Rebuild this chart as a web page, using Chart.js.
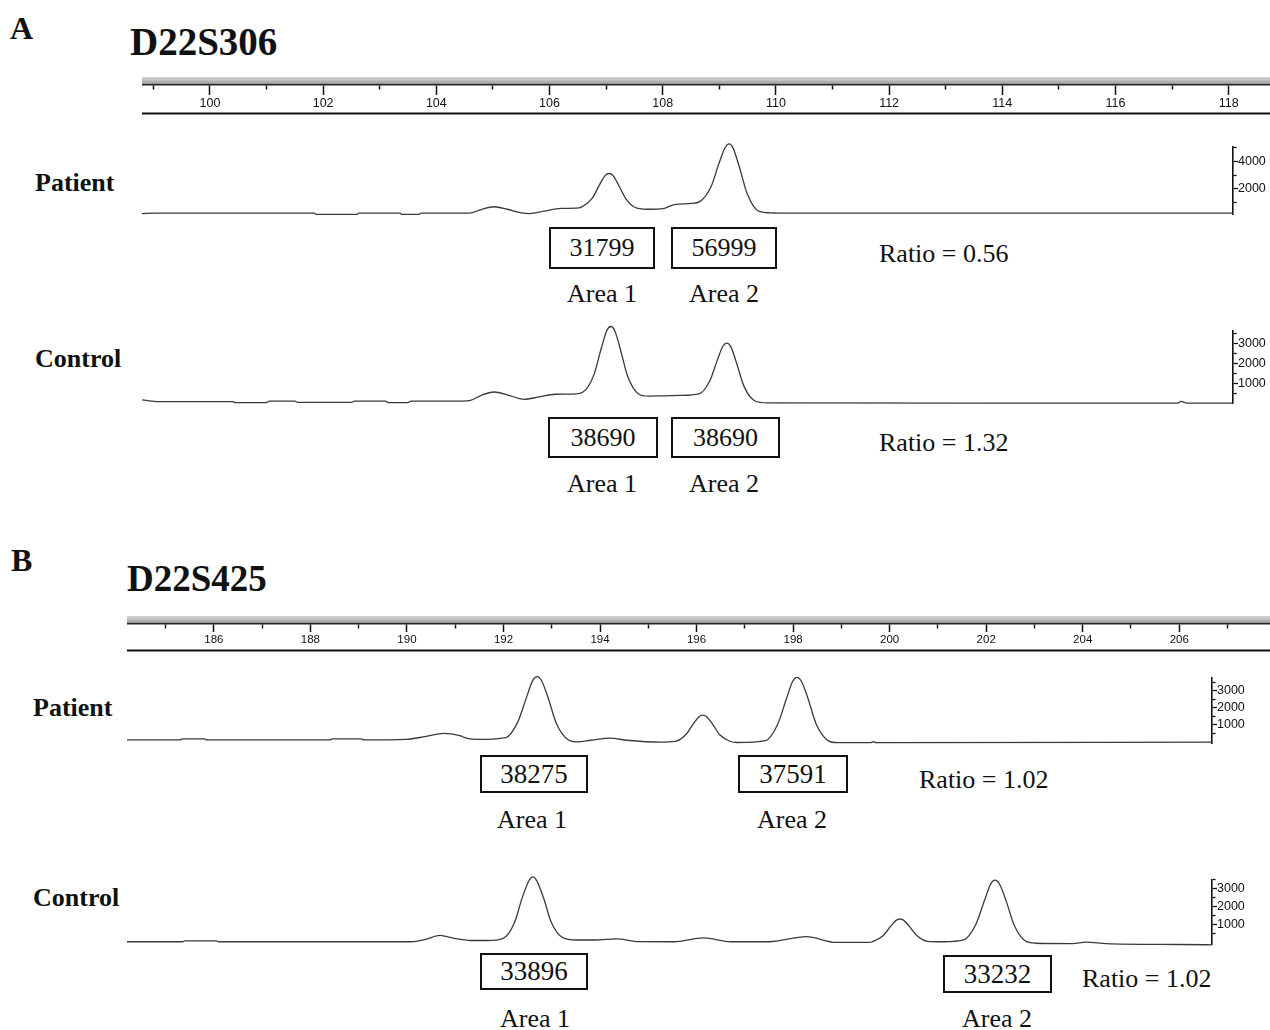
<!DOCTYPE html>
<html>
<head>
<meta charset="utf-8">
<script src="https://cdn.jsdelivr.net/npm/chart.js@4.4.0/dist/chart.umd.min.js"></script>
<style>
body { margin: 0; background: #fff; }
#fig { position: relative; width: 1270px; height: 1030px; overflow: hidden; font-family: "Liberation Serif", "Times New Roman", serif; color: #111; }
#fig canvas { position: absolute; }
.t { position: absolute; white-space: nowrap; line-height: 1; transform: translateY(-50%); }
.c { transform: translate(-50%, -50%); }
.b { font-weight: bold; }
.box { position: absolute; border: 2px solid #111; box-sizing: border-box; display: flex; align-items: center; justify-content: center; line-height: 1; }
</style>
</head>
<body>
<div id="fig">
  <canvas id="rulerA" width="1128" height="39" style="left:142px;top:76px"></canvas>
  <canvas id="patientA" width="1128" height="87" style="left:142px;top:135px"></canvas>
  <canvas id="controlA" width="1128" height="91" style="left:142px;top:320px"></canvas>
  <canvas id="rulerB" width="1143" height="37" style="left:127px;top:615px"></canvas>
  <canvas id="patientB" width="1143" height="85" style="left:127px;top:666px"></canvas>
  <canvas id="controlB" width="1143" height="84" style="left:127px;top:868px"></canvas>
</div>
<script>
// labels
const panels = ['A', 'B']
const markers = ['D22S306', 'D22S425']
const samples = ['Patient', 'Control']
const areaNames = ['Area 1', 'Area 2']

// peak areas and ratios
const patientA_areas = [31799, 56999]
const controlA_areas = [38690, 38690]
const patientB_areas = [38275, 37591]
const controlB_areas = [33896, 33232]
const ratios = ['0.56', '1.32', '1.02', '1.02']

// size ruler ticks (bp)
const rulerA_ticks = [99, 100, 101, 102, 103, 104, 105, 106, 107, 108, 109, 110, 111, 112, 113, 114, 115, 116, 117, 118]
const rulerB_ticks = [185, 186, 187, 188, 189, 190, 191, 192, 193, 194, 195, 196, 197, 198, 199, 200, 201, 202, 203, 204, 205, 206, 207]

// intensity axis ticks
const patientA_yticks = [1000, 2000, 3000, 4000, 5000]
const patientA_ylabels = [2000, 4000]
const other_yticks = [500, 1000, 1500, 2000, 2500, 3000, 3500]
const other_ylabels = [1000, 2000, 3000]

// traces: size (bp) and fluorescence (rfu)
const patientA_size = [98.8, 99.0, 101.85, 101.87, 102.6, 102.62, 103.36, 103.38, 103.7, 103.72, 104.58, 104.8, 105.02, 105.25, 105.5, 105.65, 105.9, 106.2, 106.45, 106.56, 106.75, 106.88, 106.98, 107.05, 107.12, 107.22, 107.35, 107.54, 107.8, 108.0, 108.2, 108.5, 108.65, 108.85, 108.99, 109.10, 109.17, 109.24, 109.35, 109.49, 109.69, 109.95, 110.1, 118.07]
const patientA_rfu = [200, 236, 236, 150, 150, 236, 236, 150, 150, 236, 236, 520, 700, 520, 260, 210, 380, 580, 600, 675, 1303, 2282, 2960, 3110, 2960, 2259, 1252, 607, 520, 560, 860, 940, 1070, 2147, 3828, 4991, 5250, 4949, 3595, 1640, 386, 250, 236, 236]

const controlA_size = [98.8, 99.1, 100.4, 100.45, 101.0, 101.05, 101.5, 101.55, 102.5, 102.55, 103.1, 103.15, 103.5, 103.55, 104.45, 104.6, 104.8, 105.02, 105.25, 105.45, 105.55, 105.8, 106.1, 106.4, 106.59, 106.78, 106.91, 107.01, 107.08, 107.15, 107.25, 107.38, 107.57, 107.75, 108.0, 108.3, 108.64, 108.83, 108.96, 109.06, 109.13, 109.2, 109.3, 109.43, 109.62, 109.85, 117.1, 117.15, 117.25, 118.07]
const controlA_rfu = [176, 95, 95, 48, 48, 120, 120, 60, 60, 120, 120, 48, 48, 120, 120, 150, 420, 571, 430, 260, 205, 320, 460, 470, 571, 1409, 2717, 3623, 3824, 3617, 2684, 1337, 474, 370, 381, 400, 478, 1128, 2142, 2844, 3000, 2823, 2026, 875, 137, 30, 20, 110, 20, 20]

const patientB_size = [184.2, 185.3, 185.35, 185.8, 185.85, 188.4, 188.45, 189.05, 189.1, 189.98, 190.39, 190.76, 191.09, 191.24, 191.45, 192.04, 192.29, 192.47, 192.6, 192.69, 192.78, 192.92, 193.09, 193.34, 193.5, 193.8, 194.2, 194.55, 195.25, 195.55, 195.77, 195.92, 196.04, 196.12, 196.2, 196.32, 196.47, 196.69, 196.83, 197.42, 197.67, 197.85, 197.98, 198.07, 198.16, 198.3, 198.47, 198.72, 198.9, 199.6, 199.65, 199.7, 206.66]
const patientB_rfu = [110, 110, 170, 170, 110, 110, 170, 170, 110, 140, 320, 495, 360, 200, 140, 251, 1173, 2612, 3609, 3830, 3600, 2563, 1065, 105, 0, 90, 220, 90, -20, 28, 425, 1045, 1475, 1570, 1474, 1042, 418, 18, -40, 75, 1032, 2526, 3560, 3790, 3559, 2520, 1018, 56, -50, -50, 10, -50, -20]

const controlB_size = [184.2, 185.35, 185.4, 186.05, 186.1, 190.08, 190.4, 190.68, 190.95, 191.32, 191.67, 191.98, 192.22, 192.38, 192.52, 192.6, 192.68, 192.82, 192.98, 193.22, 193.5, 193.9, 194.34, 194.8, 195.52, 196.14, 196.7, 197.49, 198.26, 198.88, 199.58, 199.63, 199.85, 200.0, 200.12, 200.2, 200.28, 200.4, 200.55, 200.77, 201.11, 201.52, 201.77, 201.95, 202.08, 202.17, 202.26, 202.4, 202.57, 202.82, 203.02, 203.78, 204.05, 204.47, 205.98, 206.66]
const controlB_rfu = [53, 53, 105, 105, 53, 53, 200, 405, 250, 123, 123, 229, 1111, 2486, 3438, 3650, 3442, 2505, 1152, 284, 150, 150, 210, 60, 53, 263, 53, 53, 333, 18, 18, 57, 381, 888, 1238, 1316, 1239, 895, 397, 78, 53, 156, 1010, 2342, 3265, 3470, 3259, 2308, 936, 56, -30, -50, 30, -50, -100, -120]


const fig = document.querySelector('#fig')

function put(text, x, y, size, bold, center) {
    const d = document.createElement('div')
    d.className = 't' + (bold ? ' b' : '') + (center ? ' c' : '')
    d.style.left = x + 'px'
    d.style.top = y + 'px'
    d.style.fontSize = size + 'px'
    d.textContent = text
    fig.appendChild(d)
}

function box(text, l, t, r, b, size) {
    const d = document.createElement('div')
    d.className = 'box'
    d.style.left = l + 'px'
    d.style.top = t + 'px'
    d.style.width = (r - l) + 'px'
    d.style.height = (b - t) + 'px'
    d.style.fontSize = size + 'px'
    d.textContent = text
    fig.appendChild(d)
}

// gray bar on top of the ruler and the closing line under it
const rulerDeco = {
    id: 'rulerDeco',
    beforeDraw(chart) {
        const c = chart.ctx
        const a = chart.chartArea
        const g = c.createLinearGradient(0, 1, 0, a.bottom)
        g.addColorStop(0, '#d4d4d4')
        g.addColorStop(0.45, '#bdbdbd')
        g.addColorStop(1, '#8a8a8a')
        c.fillStyle = g
        c.fillRect(0, 1, chart.width, a.bottom - 1)
    },
    afterDraw(chart) {
        const c = chart.ctx
        c.save()
        c.strokeStyle = '#111'
        c.lineWidth = 2
        c.beginPath()
        c.moveTo(0, chart.height - 1.5)
        c.lineTo(chart.width, chart.height - 1.5)
        c.stroke()
        c.restore()
    }
}

function makeRuler(id, ticksArr, xmin, xmax, axisH, major, fontSize) {
    new Chart(document.querySelector('#' + id), {
        type: 'line',
        data: { datasets: [{ data: [] }] },
        options: {
            responsive: false,
            animation: false,
            events: [],
            layout: { padding: { top: 8, bottom: 2, left: 0, right: 0 } },
            plugins: { legend: { display: false }, tooltip: { enabled: false } },
            scales: {
                x: {
                    type: 'linear',
                    position: 'bottom',
                    min: xmin,
                    max: xmax,
                    afterBuildTicks: s => { s.ticks = ticksArr.map(v => ({ value: v })) },
                    afterFit: s => { s.height = axisH },
                    grid: {
                        drawOnChartArea: false,
                        tickLength: major,
                        tickColor: '#111',
                        tickWidth: 1.5,
                        tickBorderDash: ctx => (ctx.tick && ctx.tick.value % 2 !== 0) ? [4, 40] : []
                    },
                    border: { display: true, color: '#222', width: 1.5 },
                    ticks: {
                        autoSkip: false,
                        maxRotation: 0,
                        padding: 1,
                        color: '#111',
                        font: { family: 'Liberation Sans', size: fontSize },
                        callback: v => v % 2 === 0 ? String(v) : ''
                    }
                },
                y: { display: false, min: 0, max: 1 }
            }
        },
        plugins: [rulerDeco]
    })
}

function makeTrace(id, sizes, rfu, xmin, xmax, ymin, ymax, yticks, ylabels, padTop, axisW) {
    new Chart(document.querySelector('#' + id), {
        type: 'line',
        data: {
            datasets: [{
                data: sizes.map((s, i) => ({ x: s, y: rfu[i] })),
                borderColor: '#3a3a3a',
                borderWidth: 1.3,
                pointRadius: 0,
                cubicInterpolationMode: 'monotone',
                clip: false
            }]
        },
        options: {
            responsive: false,
            animation: false,
            events: [],
            layout: { padding: { top: padTop, bottom: 4, left: 0, right: 0 } },
            plugins: { legend: { display: false }, tooltip: { enabled: false } },
            scales: {
                x: { type: 'linear', display: false, min: xmin, max: xmax },
                y: {
                    position: 'right',
                    min: ymin,
                    max: ymax,
                    afterBuildTicks: s => { s.ticks = yticks.map(v => ({ value: v })) },
                    afterFit: s => { s.width = axisW },
                    grid: {
                        drawOnChartArea: false,
                        tickLength: 5,
                        tickColor: '#111',
                        tickWidth: 1.3,
                        tickBorderDash: ctx => (ctx.tick && !ylabels.includes(ctx.tick.value)) ? [3, 20] : []
                    },
                    border: { display: true, color: '#111', width: 1.6 },
                    ticks: {
                        autoSkip: false,
                        padding: 0,
                        color: '#111',
                        font: { family: 'Liberation Sans', size: 12.5 },
                        callback: v => ylabels.includes(v) ? String(v) : ''
                    }
                }
            }
        }
    })
}

makeRuler('rulerA', rulerA_ticks, 98.8, 118.73, 28, 10, 12.5)
makeTrace('patientA', patientA_size, patientA_rfu, 98.8, 118.07, 140, 5030, patientA_yticks, patientA_ylabels, 12, 37)
makeTrace('controlA', controlA_size, controlA_rfu, 98.8, 118.07, 0, 3600, other_yticks, other_ylabels, 11, 37)

makeRuler('rulerB', rulerB_ticks, 184.2, 207.88, 26, 8, 11.5)
makeTrace('patientB', patientB_size, patientB_rfu, 184.2, 206.66, -100, 3750, other_yticks, other_ylabels, 12, 58)
makeTrace('controlB', controlB_size, controlB_rfu, 184.2, 206.66, -100, 3480, other_yticks, other_ylabels, 12, 58)

// panel letters, marker names, sample names
put(panels[0], 10, 28, 32, true)
put(markers[0], 130, 41, 39, true)
put(samples[0], 35, 183, 26, true)
put(samples[1], 35, 359, 26, true)
put(panels[1], 11, 560, 32, true)
put(markers[1], 127, 578, 37, true)
put(samples[0], 33, 708, 26, true)
put(samples[1], 33, 898, 26, true)

// panel A boxes
box(patientA_areas[0], 549, 227, 655, 269, 26)
box(patientA_areas[1], 671, 227, 777, 269, 26)
put(areaNames[0], 602, 294, 26, false, true)
put(areaNames[1], 724, 294, 26, false, true)
put('Ratio = ' + ratios[0], 879, 254, 26)

box(controlA_areas[0], 548, 417, 658, 458, 26)
box(controlA_areas[1], 671, 417, 780, 458, 26)
put(areaNames[0], 602, 484, 26, false, true)
put(areaNames[1], 724, 484, 26, false, true)
put('Ratio = ' + ratios[1], 879, 443, 26)

// panel B boxes
box(patientB_areas[0], 480, 755, 588, 793, 27)
box(patientB_areas[1], 738, 755, 848, 793, 27)
put(areaNames[0], 532, 820, 26, false, true)
put(areaNames[1], 792, 820, 26, false, true)
put('Ratio = ' + ratios[2], 919, 780, 26)

box(controlB_areas[0], 480, 953, 588, 990, 27)
box(controlB_areas[1], 943, 955, 1052, 993, 27)
put(areaNames[0], 535, 1019, 26, false, true)
put(areaNames[1], 997, 1019, 26, false, true)
put('Ratio = ' + ratios[3], 1082, 979, 26)
</script>
</body>
</html>
